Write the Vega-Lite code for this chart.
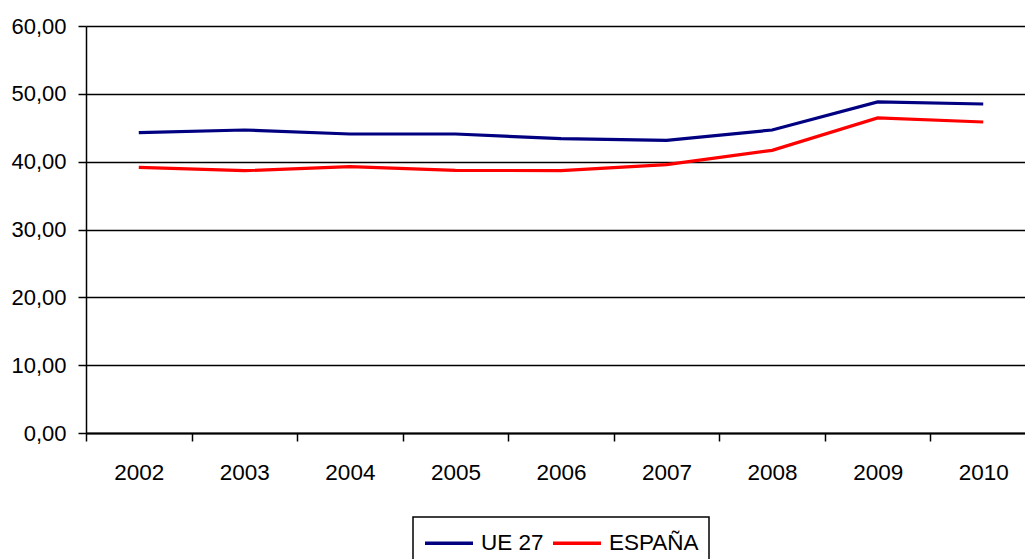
{
  "$schema": "https://vega.github.io/schema/vega-lite/v6.json",
  "width": 950,
  "height": 407,
  "autosize": {"type": "none"},
  "padding": {"left": 86, "top": 26, "right": 0, "bottom": 126},
  "background": "white",
  "config": {
    "font": "Liberation Sans",
    "view": {"stroke": null},
    "legend": {"strokeColor": "black", "strokeWidth": 1.5, "padding": 10}
  },
  "data": {
    "values": [
      {"year": "2002", "serie": "UE 27", "value": 44.28},
      {"year": "2003", "serie": "UE 27", "value": 44.67},
      {"year": "2004", "serie": "UE 27", "value": 44.08},
      {"year": "2005", "serie": "UE 27", "value": 44.08},
      {"year": "2006", "serie": "UE 27", "value": 43.4},
      {"year": "2007", "serie": "UE 27", "value": 43.15},
      {"year": "2008", "serie": "UE 27", "value": 44.67},
      {"year": "2009", "serie": "UE 27", "value": 48.8},
      {"year": "2010", "serie": "UE 27", "value": 48.5},
      {"year": "2002", "serie": "ESPAÑA", "value": 39.17},
      {"year": "2003", "serie": "ESPAÑA", "value": 38.67},
      {"year": "2004", "serie": "ESPAÑA", "value": 39.26},
      {"year": "2005", "serie": "ESPAÑA", "value": 38.72},
      {"year": "2006", "serie": "ESPAÑA", "value": 38.68},
      {"year": "2007", "serie": "ESPAÑA", "value": 39.56},
      {"year": "2008", "serie": "ESPAÑA", "value": 41.67},
      {"year": "2009", "serie": "ESPAÑA", "value": 46.44},
      {"year": "2010", "serie": "ESPAÑA", "value": 45.85}
    ]
  },
  "mark": {"type": "line", "strokeWidth": 3.2},
  "encoding": {
    "x": {
      "field": "year",
      "type": "ordinal",
      "bandPosition": 0.5,
      "scale": {"type": "band", "paddingInner": 0, "paddingOuter": 0},
      "axis": {
        "title": null,
        "labelAngle": 0,
        "labelFontSize": 22.5,
        "labelColor": "black",
        "labelPadding": 20,
        "tickBand": "extent",
        "tickSize": 8,
        "tickColor": "black",
        "tickWidth": 1.5,
        "domainColor": "black",
        "domainWidth": 2,
        "grid": false
      }
    },
    "y": {
      "field": "value",
      "type": "quantitative",
      "scale": {"domain": [0, 60], "nice": false},
      "axis": {
        "title": null,
        "values": [0, 10, 20, 30, 40, 50, 60],
        "labelExpr": "replace(format(datum.value, '.2f'), '.', ',')",
        "labelFontSize": 22,
        "labelColor": "black",
        "labelPadding": 12,
        "tickSize": 8,
        "tickColor": "black",
        "tickWidth": 1.5,
        "domainColor": "black",
        "domainWidth": 1.5,
        "grid": true,
        "gridColor": "black",
        "gridWidth": 1.6
      }
    },
    "color": {
      "field": "serie",
      "type": "nominal",
      "scale": {"domain": ["UE 27", "ESPAÑA"], "range": ["#000080", "#FF0000"]},
      "legend": {
        "title": null,
        "orient": "none",
        "legendX": 327,
        "legendY": 491,
        "direction": "horizontal",
        "symbolType": "M-1,0L2.4286,0",
        "symbolSize": 784,
        "symbolStrokeWidth": 3.5,
        "labelFontSize": 22.5,
        "labelColor": "black",
        "labelOffset": 26,
        "columnPadding": 2
      }
    }
  }
}
